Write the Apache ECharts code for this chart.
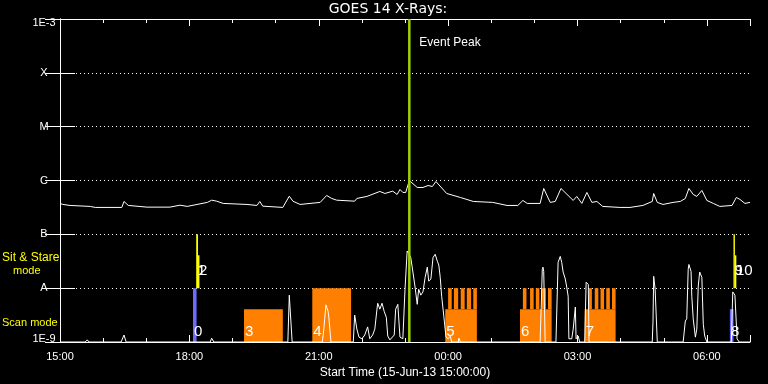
<!DOCTYPE html>
<html><head><meta charset="utf-8">
<script src="https://cdn.jsdelivr.net/npm/echarts@6/dist/echarts.min.js"></script>
<style>html,body{margin:0;padding:0;background:#000}#c{width:768px;height:384px}</style>
</head><body><div id="c"></div>
<script>
// Time axis: minutes since 15-Jun-13 15:00:00
const xTickLabels = ['15:00','18:00','21:00','00:00','03:00','06:00'];
const yTickLabels = ['1E-9','A','B','C','M','X','1E-3'];

// GOES 14 X-ray flux (W/m^2)
const goesMin = [0,4,14,42,49,86,89,95,121,153,167,177,205,211,218,227,260,274,278,282,310,319,324,334,362,371,378,385,410,413,427,445,452,463,469,473,477,481,486,497,505,512,518,523,538,557,575,602,622,637,644,650,668,673,682,689,697,714,719,726,733,740,747,755,779,793,811,824,826,831,839,853,863,870,875,881,886,893,900,909,918,935,941,946,953,960];
const goesFlux = [3.75e-7,3.59e-7,3.44e-7,3.30e-7,3.16e-7,3.16e-7,4.08e-7,3.44e-7,3.20e-7,3.20e-7,
3.48e-7,3.30e-7,3.92e-7,4.31e-7,4.13e-7,3.75e-7,3.59e-7,3.44e-7,4.08e-7,3.34e-7,
3.16e-7,5.12e-7,4.13e-7,3.59e-7,3.92e-7,5.27e-7,4.64e-7,4.31e-7,4.13e-7,4.64e-7,
5.06e-7,6.26e-7,5.74e-7,6.34e-7,5.50e-7,6.81e-7,6.00e-7,6.00e-7,1.00e-6,7.42e-7,
7.42e-7,8.07e-7,7.74e-7,9.57e-7,5.74e-7,4.84e-7,4.08e-7,3.92e-7,3.44e-7,3.44e-7,
4.26e-7,3.75e-7,3.75e-7,7.11e-7,3.92e-7,4.08e-7,7.11e-7,4.26e-7,5.06e-7,3.75e-7,
6.00e-7,3.92e-7,4.08e-7,3.30e-7,3.16e-7,3.16e-7,3.44e-7,4.08e-7,5.74e-7,3.92e-7,
3.59e-7,3.92e-7,4.08e-7,4.64e-7,7.11e-7,5.50e-7,5.06e-7,6.53e-7,4.26e-7,3.75e-7,
3.30e-7,3.44e-7,4.84e-7,4.45e-7,3.75e-7,3.92e-7];

// Lower light curve (normalised, timeline units)
const lcMin = [0,35,38,40,85,89,92,209,211,214,317,319,320,321,323,365,367,370,373,374,377,408,410,413,416,420,424,428,431,435,438,441,442,445,448,451,454,456,459,465,467,470,473,477,480,483,486,488,491,494,497,499,502,505,508,511,513,516,519,522,525,527,529,531,534,537,540,543,545,554,555,557,668,671,672,673,675,690,693,696,698,700,703,705,707,708,712,714,717,718,721,723,730,732,733,735,736,824,825,826,828,831,846,848,851,867,870,872,874,875,878,879,881,884,886,888,890,893,895,897,900,934,936,939,942,945,960];
const lcVal = [0,0,0.04,0,0,0.13,0,0,0.07,0,0,0.87,0.89,0.87,0,0,0.24,0.69,0.57,0.46,0,0,0.50,0.24,0.09,0.06,0.13,0.28,0.06,0.13,0.24,0.61,0.72,0.61,0.72,0.57,0.46,0.11,0.04,0.13,0.61,0.70,0.09,0.06,0.98,1.69,1.63,1.57,1.30,1.02,0.70,0.98,0.87,0.93,1.20,1.39,1.13,1.17,1.57,1.63,1.50,1.43,1.20,0.85,0.48,0.09,0.06,0.11,0,0,0.07,0,0,1.35,1.39,1.31,0,0,1.48,1.59,1.48,1.30,1.17,1.02,0.85,0.06,0.06,0.24,0.65,0.06,0.11,0,0,1.11,1.13,1.07,0,0,0.37,1.22,0.98,0,0,0.02,0,0,0.39,0.43,1.35,1.44,1.31,0.85,0.43,0.09,0.24,1.04,1.30,1.20,0.33,0.11,0,0,0.93,0.87,0.06,0,0];

// Observations (0..10): kind 0 = scan (blue), 1 = sit & stare, 2 = scan (orange)
const obsStart  = [185, 189.5, 192, 256, 351, 536, 640, 730, 932, 937, 939];
const obsEnd    = [190, 192, 194, 310, 405, 580, 684, 773, 937, 939, 941];
const obsBottom = [0, 1, 1, 0, 0, 0, 0, 0, 0, 1, 1];
const obsTop    = [1, 2, 1.61, 0.61, 1, 0.61, 0.61, 0.61, 0.61, 2, 1.61];
const obsKind   = [0, 1, 1, 2, 2, 2, 2, 2, 0, 1, 1];

// Raster sub-steps on top of scans 5, 6, 7
const rasterStart = [540,548,557.5,566,575, 644,654,662,670,679, 736,744,752,760,768];
const rasterEnd   = [545,554,563,572,580, 649,659,667,676,684, 740,749,757,765,773];
const rasterBottom = 0.61, rasterTop = 1;

const eventPeakMin = [486];

const kindColor = ['#6b6bff', '#ffff00', '#ff8000'];
const FONT = 'Liberation Sans';

const rectData = obsStart.map((s,i)=>[s, obsEnd[i], obsBottom[i], obsTop[i], obsKind[i]])
  .concat(rasterStart.map((s,i)=>[s, rasterEnd[i], rasterBottom, rasterTop, 2]));

function rectItem(params, api){
  const p1 = api.coord([api.value(0), api.value(3)]);
  const p2 = api.coord([api.value(1), api.value(2)]);
  return {type:'rect', shape:{x:p1[0], y:p1[1], width:p2[0]-p1[0], height:p2[1]-p1[1]},
          style:{fill: kindColor[api.value(4)]}};
}
function labelItem(params, api){
  const k = api.value(2);
  const p = api.coord([api.value(0), k === 1 ? 1 : 0]);
  return {type:'text', x: p[0]+1, y: k === 1 ? p[1]-17 : p[1]-10,
          style:{text: String(api.value(1)), fill:'#fff', font:'15px "'+FONT+'"', align:'left', verticalAlign:'middle'}};
}
function peakItem(params, api){
  const cs = params.coordSys;
  const x = api.coord([api.value(0), 0])[0];
  return {type:'group', children:[
    {type:'line', shape:{x1:x, y1:cs.y, x2:x, y2:cs.y+cs.height}, style:{stroke:'#a0d000', lineWidth:2.5}},
    {type:'text', x:x+10, y:cs.y+24, style:{text:'Event Peak', fill:'#fff', font:'12px "'+FONT+'"', align:'left', verticalAlign:'middle'}}
  ]};
}

const chart = echarts.init(document.getElementById('c'), null, {renderer:'canvas'});
const white = '#ffffff';
const baseX = {type:'value', min:0, max:960, splitLine:{show:false}};
chart.setOption({
  backgroundColor:'#000',
  animation:false,
  textStyle:{fontFamily:FONT},
  grid:{left:60, right:18, top:19, bottom:41},
  graphic:[
    {type:'text', x:388, y:9, style:{text:'GOES 14 X-Rays:', fill:white, font:'14px "DejaVu Sans"', align:'center', verticalAlign:'middle'}},
    {type:'text', x:2, y:258, style:{text:'Sit & Stare', fill:'#ffff00', font:'12px "'+FONT+'"', align:'left', verticalAlign:'middle'}},
    {type:'text', x:13, y:271, style:{text:'mode', fill:'#ffff00', font:'11px "'+FONT+'"', align:'left', verticalAlign:'middle'}},
    {type:'text', x:2, y:323, style:{text:'Scan mode', fill:'#ffff00', font:'11px "'+FONT+'"', align:'left', verticalAlign:'middle'}}
  ],
  xAxis:[
    Object.assign({}, baseX, {position:'bottom', interval:180,
      axisLine:{lineStyle:{color:white, width:1}},
      axisTick:{inside:true, length:7, lineStyle:{color:white}},
      axisLabel:{color:white, fontSize:11, fontFamily:FONT, margin:9,
        formatter:v=> (v % 180 === 0 && v/180 < xTickLabels.length) ? xTickLabels[v/180] : ''},
      name:'Start Time (15-Jun-13 15:00:00)', nameLocation:'middle', nameGap:25,
      nameTextStyle:{color:white, fontSize:12, fontFamily:FONT}}),
    Object.assign({}, baseX, {position:'bottom', interval:60, axisLine:{show:false},
      axisTick:{inside:true, length:4, lineStyle:{color:white}}, axisLabel:{show:false}}),
    Object.assign({}, baseX, {position:'top', interval:180,
      axisLine:{lineStyle:{color:white, width:1}},
      axisTick:{inside:true, length:7, lineStyle:{color:white}}, axisLabel:{show:false}}),
    Object.assign({}, baseX, {position:'top', interval:60, axisLine:{show:false},
      axisTick:{inside:true, length:4, lineStyle:{color:white}}, axisLabel:{show:false}})
  ],
  yAxis:[
    {type:'log', logBase:10, min:1e-9, max:1e-3, interval:1, position:'left',
      axisLine:{show:true, lineStyle:{color:white, width:1}},
      axisTick:{show:true, inside:true, length:15, lineStyle:{color:white}},
      splitLine:{show:true, lineStyle:{color:white, type:[1,3], width:1}},
      axisLabel:{color:white, fontSize:11, fontFamily:FONT, align:'center', margin:16,
        formatter:v=>{
          const i = Math.round(Math.log10(v)) + 9;
          if (i === 6) return '{t|' + yTickLabels[i] + '}';
          if (i === 0) return '{b|' + yTickLabels[i] + '}';
          return yTickLabels[i] || '';
        },
        rich:{t:{padding:[8,0,0,0], color:white, fontSize:11, fontFamily:FONT},
              b:{padding:[0,0,7,0], color:white, fontSize:11, fontFamily:FONT}}}},
    {type:'log', logBase:10, min:1e-9, max:1e-3, interval:1, position:'right',
      axisLine:{show:true, lineStyle:{color:white, width:1}},
      axisTick:{show:true, inside:true, length:15, lineStyle:{color:white}},
      splitLine:{show:false}, axisLabel:{show:false}},
    {type:'value', min:0, max:6, show:false, splitLine:{show:false}}
  ],
  series:[
    {type:'custom', xAxisIndex:0, yAxisIndex:2, renderItem:rectItem, data:rectData, z:2, silent:true},
    {type:'line', xAxisIndex:0, yAxisIndex:2, data:lcMin.map((m,i)=>[m, lcVal[i]]), symbol:'none',
      lineStyle:{color:white, width:1}, z:3, silent:true},
    {type:'line', xAxisIndex:0, yAxisIndex:0, data:goesMin.map((m,i)=>[m, goesFlux[i]]), symbol:'none',
      lineStyle:{color:white, width:1}, z:3, silent:true},
    {type:'custom', xAxisIndex:0, yAxisIndex:2, renderItem:labelItem,
      data:obsStart.map((s,i)=>[s, i, obsKind[i]]), z:4, silent:true},
    {type:'custom', xAxisIndex:0, yAxisIndex:2, renderItem:peakItem, data:eventPeakMin.map(m=>[m]), z:5, silent:true}
  ]
});
</script></body></html>
